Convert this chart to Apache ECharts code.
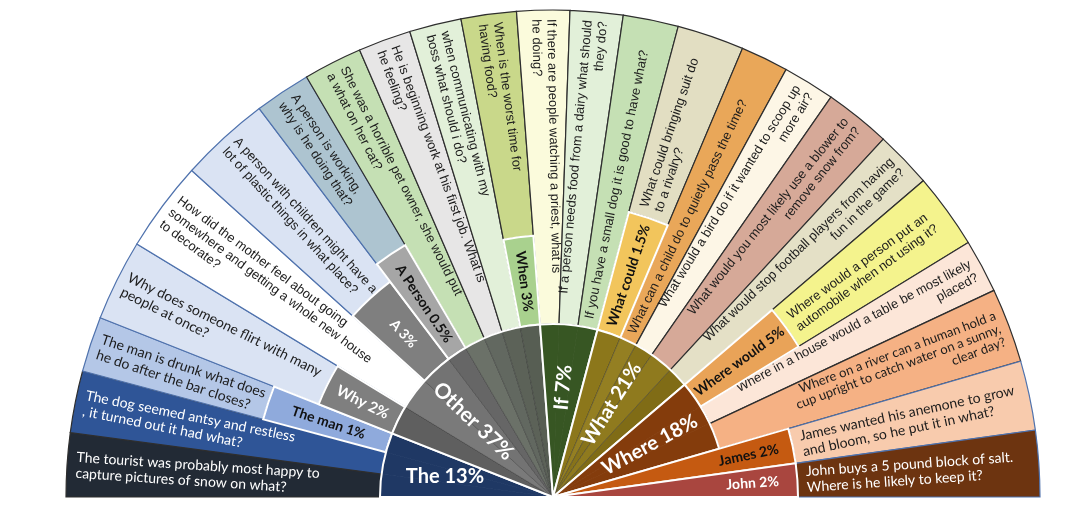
<!DOCTYPE html>
<html>
<head>
<meta charset="utf-8">
<script src="https://cdn.jsdelivr.net/npm/echarts@6/dist/echarts.min.js"></script>
<style>
  html, body { margin: 0; padding: 0; background: #fff; }
  #chart-box { width: 1080px; height: 515px; }
</style>
</head>
<body>
<div id="chart-box"></div>
<script>
// ==========================================
// data
// ==========================================
// first word of the question (inner ring)
const firstWords = ['The', 'Other', 'If', 'What', 'Where', 'James', 'John'];
const firstWordShare = [13, 37, 7, 21, 18, 2, 2];

// example questions (outer ring), left to right
const questions = [
    'The tourist was probably most happy to\ncapture pictures of snow on what?',
    'The dog seemed antsy and restless\n, it turned out it had what?',
    'The man is drunk what does\nhe do after the bar closes?',
    'Why does someone flirt with many\npeople at once?',
    'How did the mother feel about going\nsomewhere and getting a whole new house\nto decorate?',
    'A person with children might have a\nlot of plastic things in what place?',
    'A person is working,\nwhy is he doing that?',
    'She was a horrible pet owner, she would put\na what on her cat?',
    'He is beginning work at his first job. What is\nhe feeling?',
    'when communicating with my\nboss what should i do?',
    'When is the worst time for\nhaving food?',
    'If there are people watching a priest, what is\nhe doing?',
    'If a person needs food from a dairy what should\nthey do?',
    'If you have a small dog it is good to have what?',
    'What could bringing suit do\nto a rivalry?',
    'What can a child do to quietly pass the time?',
    'What would a bird do if it wanted to scoop up\nmore air?',
    'What would you most likely use a blower to\nremove snow from?',
    'What would stop football players from having\nfun in the game?',
    'Where would a person put an\nautomobile when not using it?',
    'Where in a house would a table be most likely\nplaced?',
    'Where on a river can a human hold a\ncup upright to catch water on a sunny,\nclear day?',
    'James wanted his anemone to grow\nand bloom, so he put it in what?',
    'John buys a 5 pound block of salt.\nWhere is he likely to keep it?'
];
// which first word each example belongs to (index in firstWords)
const questionFirstWord = [0, 0, 0, 1, 1, 1, 1, 1, 1, 1, 1, 2, 2, 2, 3, 3, 3, 3, 3, 4, 4, 4, 5, 6];
// share of the half circle each example takes (degrees)
const questionSpan = [7.6, 7.4, 6.6, 9.7, 10.8, 10.8, 6.7, 7.0, 6.3, 6.2, 6.6, 6.3, 6.3, 6.6, 8.0, 5.7, 6.2, 7.9, 6.8, 9.0, 6.4, 8.9, 8.3, 7.9];

// first two words (middle ring), shown only for some examples
const secondWords = ['The man', 'Why', 'A', 'A Person', 'When', 'What could', 'Where would'];
const secondWordShare = [1, 2, 3, 0.5, 3, 1.5, 5];
const secondWordQuestion = [2, 3, 5, 6, 10, 14, 19];

// ==========================================
// layout + styles
// ==========================================
const OUTER = 487;      // outer radius
const FIRST_R = 173;    // inner ring radius
const NAME_R = 245;     // James / John wedges
const secondOuter = [300, 252, 270, 292, 262, 295, 288];
const PAD = 9;
// small nudges of the inner labels (angle units, + = towards the right end)
const firstLabelShift = [0, -10, 0, 0, 0, 0, 0];
const flatLabels = new Set([0]);

const firstColor = ['#1f3864', '#6b6b6b', '#375623', '#8a7519', '#843c0c', '#c55a11', '#a9463f'];
const firstTextColor = ['#fff', '#fff', '#fff', '#fff', '#fff', '#111', '#fff'];
// shades inside the inner ring (one per example)
const innerShade = [
    '#1f3864', '#1f3864', '#1f3864',
    '#5f5f5f', '#7a7a7a', '#737373', '#666666', '#6b7168', '#626860', '#5c6258', '#575e53',
    '#375623', '#375623', '#375623',
    '#8c771b', '#947f22', '#87731a', '#8f7a1e', '#806c16',
    '#843c0c', '#843c0c', '#843c0c',
    '#c55a11', '#a9463f'
];
const questionColor = [
    '#222a35', '#2f5597', '#b4c7e7', '#dae3f3', '#ffffff', '#dae3f3', '#adc4d0',
    '#c5e0b4', '#e7e6e6', '#e2f0d9', '#c9d88a',
    '#fbfbdc', '#e2f0d9', '#c5e0b4',
    '#e2dec2', '#e9a759', '#fdf6e6', '#d6a998', '#e4e0c6',
    '#f4f38d', '#fce6d8', '#f5b184',
    '#f8cbad', '#6d3410'
];
const secondColor = ['#8faadc', '#7f7f7f', '#7f7f7f', '#a6a6a6', '#a9d18e', '#f2c55c', '#e9a358'];
const secondTextColor = ['#111', '#fff', '#fff', '#111', '#111', '#111', '#111'];

const whiteText = new Set([0, 1, 23]);
const blueEdge = new Set([2, 3, 4, 5, 6, 22, 23]);
const calibriLike = new Set([0, 1, 2, 3, 21, 22, 23]);
const endAligned = new Set([12, 16, 17, 18, 20, 21]);

// cumulative start of each example along the half circle
const starts = [];
let total = 0;
questionSpan.forEach(function (s) { starts.push(total); total += s; });

function groupRange(g) {
    const idx = [];
    questionFirstWord.forEach(function (w, i) { if (w === g) idx.push(i); });
    return [starts[idx[0]], starts[idx[idx.length - 1]] + questionSpan[idx[idx.length - 1]], idx];
}

// helpers going through the polar axes
function screenAngle(api, c, v) {
    const p = api.coord([OUTER, v]);
    let a = Math.atan2(p[1] - c[1], p[0] - c[0]);
    if (a > Math.PI / 2) a -= 2 * Math.PI;
    return a;
}
function radPx(api, c, r) {
    const p = api.coord([r, 0]);
    return Math.hypot(p[0] - c[0], p[1] - c[1]);
}
function labelAt(c, ra, theta, text, align, style, flat) {
    const left = theta > Math.PI / 2;
    return {
        type: 'text',
        x: c[0] + ra * Math.cos(theta),
        y: c[1] - ra * Math.sin(theta),
        rotation: flat ? 0 : (left ? theta - Math.PI : theta),
        style: Object.assign({ text: text, align: align, verticalAlign: 'middle' }, style)
    };
}

function renderQuestion(params, api) {
    const i = api.value(2);
    const g = questionFirstWord[i];
    const m = secondWordQuestion.indexOf(i);
    const c = api.coord([0, 0]);
    const a0 = screenAngle(api, c, starts[i]);
    const a1 = screenAngle(api, c, starts[i] + questionSpan[i]);
    const rin = g >= 5 ? NAME_R : (m >= 0 ? secondOuter[m] : FIRST_R);
    const r0 = radPx(api, c, rin);
    const r = radPx(api, c, OUTER);
    const theta = -(a0 + a1) / 2;
    const left = theta > Math.PI / 2;
    let ra = r0 + PAD, align = 'left';
    if (left) { ra = r - PAD; }
    else if (endAligned.has(i)) { ra = r - PAD; align = 'right'; }
    const calibri = calibriLike.has(i);
    return {
        type: 'group',
        children: [
            {
                type: 'sector',
                shape: { cx: c[0], cy: c[1], r0: r0, r: r, startAngle: a0, endAngle: a1, clockwise: true },
                style: { fill: questionColor[i], stroke: blueEdge.has(i) ? '#4f72ad' : '#2e2e2e', lineWidth: 1.2 }
            },
            labelAt(c, ra, theta, questions[i], align, {
                fill: whiteText.has(i) ? '#ffffff' : '#1c1c1c',
                font: calibri ? (i === 21 ? '13px' : '14px') + ' Lato, "Open Sans", sans-serif'
                              : '13px "Liberation Sans", Arial, sans-serif',
                lineHeight: i === 21 ? 14 : (calibri ? 16 : 15)
            })
        ]
    };
}

function renderSecond(params, api) {
    const k = api.value(2);
    const i = secondWordQuestion[k];
    const c = api.coord([0, 0]);
    const a0 = screenAngle(api, c, starts[i]);
    const a1 = screenAngle(api, c, starts[i] + questionSpan[i]);
    const r0 = radPx(api, c, FIRST_R);
    const r = radPx(api, c, secondOuter[k]);
    const theta = -(a0 + a1) / 2;
    return {
        type: 'group',
        children: [
            {
                type: 'sector',
                shape: { cx: c[0], cy: c[1], r0: r0, r: r, startAngle: a0, endAngle: a1, clockwise: true },
                style: { fill: secondColor[k], stroke: '#ffffff', lineWidth: 2 }
            },
            labelAt(c, (r0 + r) / 2, theta, secondWords[k] + ' ' + secondWordShare[k] + '%', 'center', {
                fill: secondTextColor[k],
                font: 'bold ' + (k === 1 ? 15 : 14) + 'px Lato, "Open Sans", sans-serif'
            })
        ]
    };
}

function renderFirst(params, api) {
    const g = api.value(2);
    const range = groupRange(g);
    const c = api.coord([0, 0]);
    const rOut = radPx(api, c, g >= 5 ? NAME_R : FIRST_R);
    const children = [];
    const varied = g === 1 || g === 3;
    range[2].forEach(function (i) {
        children.push({
            type: 'sector',
            shape: {
                cx: c[0], cy: c[1], r0: 0, r: rOut,
                startAngle: screenAngle(api, c, starts[i]),
                endAngle: screenAngle(api, c, starts[i] + questionSpan[i]),
                clockwise: true
            },
            style: { fill: innerShade[i], stroke: varied ? 'rgba(35,35,35,0.45)' : innerShade[i], lineWidth: 0.8 }
        });
    });
    const a0 = screenAngle(api, c, range[0]);
    const a1 = screenAngle(api, c, range[1]);
    children.push({
        type: 'sector',
        shape: { cx: c[0], cy: c[1], r0: 0, r: rOut, startAngle: a0, endAngle: a1, clockwise: true },
        style: { fill: 'none', stroke: '#ffffff', lineWidth: 2 }
    });
    const theta = -screenAngle(api, c, (range[0] + range[1]) / 2 + firstLabelShift[g]);
    const big = g < 5;
    children.push(labelAt(c, big ? 110 : 200, theta, firstWords[g] + ' ' + firstWordShare[g] + '%', 'center', {
        fill: firstTextColor[g],
        font: big ? 'bold ' + (g === 1 ? 21 : 20) + 'px Lato, "Open Sans", sans-serif'
                  : 'bold 14px Lato, "Open Sans", sans-serif'
    }, flatLabels.has(g)));
    return { type: 'group', children: children };
}

var chartDom = document.getElementById('chart-box');
var myChart = echarts.init(chartDom);
var option;

option = {
    animation: false,
    polar: { center: [553, 497], radius: OUTER },
    angleAxis: {
        type: 'value', min: 0, max: 2 * total, startAngle: 180, clockwise: true,
        show: false, splitLine: { show: false }, axisLine: { show: false }
    },
    radiusAxis: {
        type: 'value', min: 0, max: OUTER,
        show: false, splitLine: { show: false }, axisLine: { show: false }
    },
    series: [
        {
            name: 'examples',
            type: 'custom',
            coordinateSystem: 'polar',
            renderItem: renderQuestion,
            data: questions.map(function (q, i) { return [OUTER, starts[i] + questionSpan[i] / 2, i]; })
        },
        {
            name: 'second word',
            type: 'custom',
            coordinateSystem: 'polar',
            renderItem: renderSecond,
            data: secondWords.map(function (w, k) {
                const i = secondWordQuestion[k];
                return [FIRST_R, starts[i] + questionSpan[i] / 2, k];
            })
        },
        {
            name: 'first word',
            type: 'custom',
            coordinateSystem: 'polar',
            renderItem: renderFirst,
            data: firstWords.map(function (w, g) {
                const range = groupRange(g);
                return [0, (range[0] + range[1]) / 2, g];
            })
        }
    ]
};

option && myChart.setOption(option);
</script>
</body>
</html>
